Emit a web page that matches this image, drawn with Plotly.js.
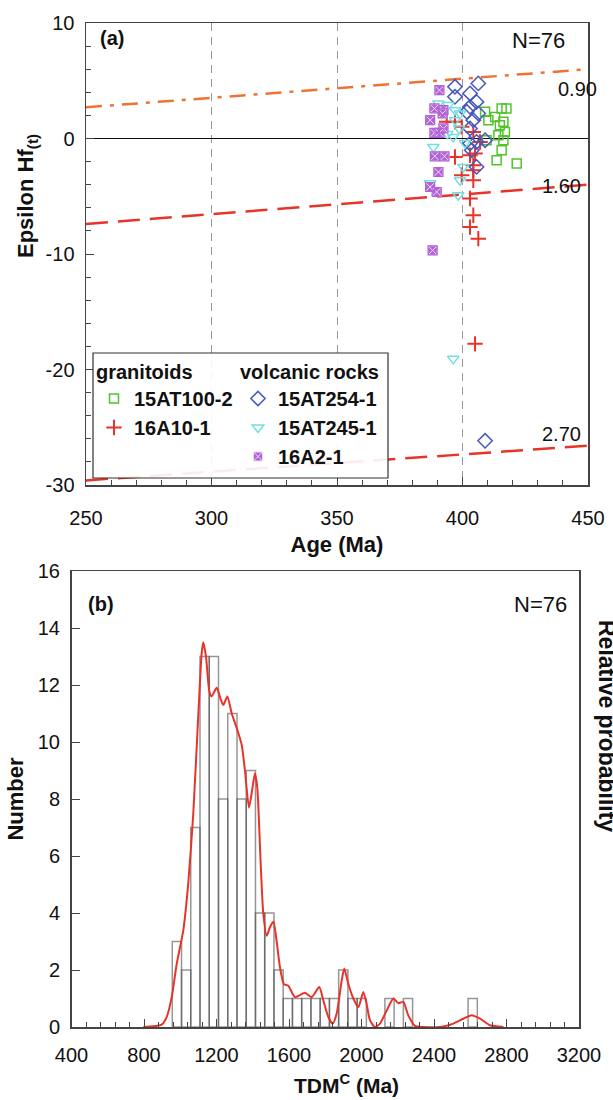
<!DOCTYPE html>
<html><head><meta charset="utf-8">
<script src="https://cdn.plot.ly/plotly-3.0.1.min.js"></script>
<style>html,body{margin:0;padding:0;background:#fff}#chart{width:613px;height:1100px}</style>
</head><body><div id="chart"></div>
<script>
// ---------- Panel (a) data: Age (Ma) vs Epsilon Hf(t) ----------
const ageGranite1 = [415.6, 409.0, 413.0, 416.3, 410.3, 414.9, 416.9, 414.3, 409.6, 416.3, 415.6, 413.6, 421.6, 417.5];
const epsGranite1 = [2.60, 2.31, 1.87, 1.44, 1.59, 1.15, 0.57, 0.29, -0.15, -0.15, -1.01, -1.88, -2.17, 2.60];

const ageGranite2 = [397.0, 399.7, 404.3, 393.7, 397.0, 403.0, 405.0, 404.3, 399.7, 404.3, 404.3, 403.0, 404.3, 403.0, 406.3, 405.0, 407.0];
const epsGranite2 = [1.44, 1.01, 0.57, 1.44, -1.60, -1.45, -1.30, -2.32, -3.18, -2.75, -3.62, -5.20, -6.65, -7.67, -8.67, -17.78, -0.30];

const ageVolc1 = [406.3, 397.0, 403.0, 397.0, 405.6, 403.0, 401.7, 406.3, 404.3, 403.0, 409.0, 405.6, 403.0, 403.7, 405.6, 409.0];
const epsVolc1 = [4.77, 4.48, 3.90, 3.61, 3.17, 2.74, 2.31, 2.17, 1.59, 0.87, -0.15, -0.29, -0.43, -1.01, -2.46, -26.17];

const ageVolc2 = [390.4, 394.3, 397.0, 399.0, 397.0, 398.7, 396.3, 388.4, 400.3, 399.0, 398.3, 387.1, 396.3, 394.0, 401.0];
const epsVolc2 = [3.04, 2.89, 2.45, 2.17, 1.59, 0.87, 0.14, -0.73, -2.46, -3.62, -4.92, -3.88, -19.08, 0.40, -0.40];

const ageVolc3 = [390.8, 388.8, 392.4, 392.1, 387.1, 392.4, 388.8, 390.8, 389.0, 392.8, 390.4, 387.1, 389.7, 388.1];
const epsVolc3 = [4.19, 2.60, 2.45, 2.17, 1.59, 0.87, 0.49, 0.49, -1.54, -1.54, -2.90, -4.20, -4.63, -9.69];

const sampleNames = ['15AT100-2', '16A10-1', '15AT254-1', '15AT245-1', '16A2-1'];

// model-age reference lines (Ga)
const refAge = [250, 450];
const ref090 = [2.7, 6.0];
const ref160 = [-7.4, -4.0];
const ref270 = [-29.6, -26.6];
const refLabels = ['0.90', '1.60', '2.70'];

// tick labels
const epsTickVals = [-30, -20, -10, 0, 10];
const epsTickText = ['-30', '-20', '-10', '0', '10'];

// ---------- Panel (b) data: TDMc histogram + probability curve ----------
const binCenters = [981.5, 1032.5, 1083.5, 1134.5, 1185.5, 1236.5, 1287.5, 1338.5, 1389.5, 1440.5, 1491.5, 1542.5,
  1593.5, 1644.5, 1695.5, 1746.5, 1797.5, 1848.5, 1899.5, 1950.5, 2001.5, 2154.5, 2256.5, 2613.5];
const binCounts = [3, 2, 7, 13, 13, 8, 11, 8, 9, 4, 4, 2, 1, 1, 1, 1, 1, 1, 2, 1, 1, 1, 1, 1];

const pdfX = [796, 897, 925, 953, 980, 1017, 1045, 1072, 1100, 1118, 1127, 1142, 1160, 1173, 1201, 1223, 1238, 1260,
  1284, 1311, 1339, 1357, 1379, 1394, 1412, 1425, 1444, 1458, 1477, 1495, 1514, 1532, 1550, 1572, 1596, 1633, 1688,
  1725, 1767, 1789, 1817, 1841, 1863, 1891, 1905, 1927, 1955, 1983, 2010, 2028, 2047, 2074, 2102, 2139, 2176, 2203,
  2231, 2258, 2295, 2341, 2433, 2507, 2562, 2608, 2654, 2709, 2783];
const pdfY = [0, 0.08, 0.35, 1.05, 2.2, 3.4, 5.1, 7.5, 11.0, 13.1, 13.5, 13.0, 11.8, 11.6, 11.9, 11.5, 11.3, 11.6,
  11.0, 10.5, 9.9, 9.0, 7.7, 8.2, 8.9, 8.4, 5.7, 4.0, 3.2, 3.5, 3.7, 3.0, 2.1, 1.5, 1.45, 1.05, 1.2,
  1.05, 1.4, 0.94, 0.35, 0.12, 0.47, 1.64, 2.05, 1.52, 1.0, 0.7, 1.23, 0.82, 0.23, 0, 0.12, 0.58, 1.0, 0.84,
  0.88, 0.41, 0.04, 0, 0, 0.12, 0.29, 0.41, 0.29, 0.06, 0];

// ---------- helpers ----------
const W = 613, H = 1100;
const PX = x => x / W;
const PY = y => 1 - y / H;
const FONT = 'Liberation Sans, Arial, Helvetica, sans-serif';
const C = {green: '#52c42a', red: '#e8332a', blue: '#4657bd', cyan: '#72e0e0', purple: '#b062d6', orange: '#f07232'};

const traces = [
  {x: refAge, y: ref090, xaxis: 'x', yaxis: 'y', mode: 'lines', showlegend: false,
   line: {color: C.orange, width: 2.5, dash: '16px,8px,4px,8px'}},
  {x: refAge, y: ref160, xaxis: 'x', yaxis: 'y', mode: 'lines', showlegend: false,
   line: {color: C.red, width: 2.5, dash: '22px,10px'}},
  {x: refAge, y: ref270, xaxis: 'x', yaxis: 'y', mode: 'lines', showlegend: false,
   line: {color: C.red, width: 2.5, dash: '22px,10px'}},
  {x: ageGranite1, y: epsGranite1, name: sampleNames[0], legend: 'legend', mode: 'markers', xaxis: 'x', yaxis: 'y',
   marker: {symbol: 'square-open', size: 9, color: C.green, line: {color: C.green, width: 1.5}}},
  {x: ageGranite2, y: epsGranite2, name: sampleNames[1], legend: 'legend', mode: 'markers', xaxis: 'x', yaxis: 'y',
   marker: {symbol: 'cross-thin-open', size: 11, color: C.red, line: {color: C.red, width: 2}}},
  {x: ageVolc1, y: epsVolc1, name: sampleNames[2], legend: 'legend2', mode: 'markers', xaxis: 'x', yaxis: 'y',
   marker: {symbol: 'diamond-open', size: 11, color: C.blue, line: {color: C.blue, width: 1.5}}},
  {x: ageVolc2, y: epsVolc2, name: sampleNames[3], legend: 'legend2', mode: 'markers', xaxis: 'x', yaxis: 'y',
   marker: {symbol: 'triangle-down-open', size: 10, color: C.cyan, line: {color: C.cyan, width: 1.5}}},
  {x: ageVolc3, y: epsVolc3, name: sampleNames[4], legend: 'legend2', mode: 'markers', xaxis: 'x', yaxis: 'y',
   marker: {symbol: 'square-x', size: 9, color: C.purple, line: {color: '#f0dcf8', width: 1}}},
  {x: ageVolc3, y: epsVolc3, showlegend: false, legend: 'legend2', mode: 'markers', xaxis: 'x', yaxis: 'y',
   marker: {symbol: 'square-open', size: 9, color: C.purple, line: {color: C.purple, width: 1.2}}},
  // panel b
  {type: 'bar', x: binCenters, y: binCounts, width: 51, xaxis: 'x2', yaxis: 'y2', showlegend: false,
   marker: {color: 'rgba(255,255,255,0)', line: {color: 'rgba(80,80,80,0.6)', width: 1.5}}},
  {x: pdfX, y: pdfY, xaxis: 'x2', yaxis: 'y2', mode: 'lines', showlegend: false,
   line: {color: C.red, width: 2, shape: 'spline', smoothing: 0.6}}
];

const axBase = {
  showline: true, linecolor: '#444', linewidth: 1.5, mirror: true, zeroline: false,
  ticks: 'inside', tickcolor: '#444', tickwidth: 1, ticklen: 8,
  tickfont: {family: FONT, size: 20, color: '#111'}, fixedrange: true
};

const layout = {
  width: W, height: H,
  margin: {l: 0, r: 0, t: 0, b: 0},
  paper_bgcolor: '#fff', plot_bgcolor: '#fff',
  font: {family: FONT, size: 20, color: '#111'},
  bargap: 0,
  xaxis: Object.assign({}, axBase, {
    domain: [PX(86), PX(588)], range: [250, 450], tick0: 250, dtick: 50, anchor: 'y',
    minor: {ticks: 'inside', dtick: 10, ticklen: 5, tickcolor: '#444'},
    showgrid: true, gridcolor: '#9a9a9a', gridwidth: 1, griddash: '8px,6px',
    ticklabelstandoff: 14,
    title: {text: '<b>Age (Ma)</b>', font: {size: 22}, standoff: 9}
  }),
  yaxis: Object.assign({}, axBase, {
    domain: [PY(485), PY(23)], range: [-30, 10], tickmode: 'array', tickvals: epsTickVals, ticktext: epsTickText,
    anchor: 'x',
    minor: {ticks: 'inside', tickmode: 'linear', tick0: 0, dtick: 2, ticklen: 5, tickcolor: '#444'},
    showgrid: false, zeroline: true, zerolinecolor: '#111', zerolinewidth: 1.5,
    ticklabelstandoff: 6
  }),
  xaxis2: Object.assign({}, axBase, {
    domain: [PX(71.5), PX(579)], range: [400, 3200], tick0: 400, dtick: 400, anchor: 'y2',
    minor: {ticks: 'inside', dtick: 80, ticklen: 5, tickcolor: '#444'},
    showgrid: false, ticklabelstandoff: 9
  }),
  yaxis2: Object.assign({}, axBase, {
    domain: [PY(1027), PY(571)], range: [0, 16], dtick: 2, anchor: 'x2',
    showgrid: false, ticklabelstandoff: 6,
    title: {text: '<b>Number</b>', font: {size: 22}, standoff: 8}
  }),
  legend: {
    x: PX(94), y: PY(353), xanchor: 'left', yanchor: 'top', bgcolor: 'rgba(0,0,0,0)', borderwidth: 0,
    font: {family: FONT, size: 20, color: '#111', weight: 'bold'},
    title: {text: 'granitoids', font: {family: FONT, size: 20, color: '#111', weight: 'bold'}}
  },
  legend2: {
    x: PX(238), y: PY(353), xanchor: 'left', yanchor: 'top', bgcolor: 'rgba(0,0,0,0)', borderwidth: 0,
    font: {family: FONT, size: 20, color: '#111', weight: 'bold'},
    title: {text: 'volcanic rocks', font: {family: FONT, size: 20, color: '#111', weight: 'bold'}}
  },
  shapes: [
    {type: 'rect', xref: 'paper', yref: 'paper', x0: PX(93), x1: PX(388), y0: PY(478), y1: PY(353),
     line: {color: '#333', width: 1.2}, fillcolor: 'rgba(255,255,255,0.9)', layer: 'above'}
  ],
  annotations: [
    {text: '<b>(a)</b>', x: PX(98), y: PY(38), xanchor: 'left'},
    {text: 'N=76', x: PX(538), y: PY(40), font: {size: 22}},
    {text: refLabels[0], x: PX(577), y: PY(89)},
    {text: refLabels[1], x: PX(561), y: PY(186)},
    {text: refLabels[2], x: PX(561), y: PY(434)},
    {text: '<b>Epsilon Hf<sub>(t)</sub></b>', x: PX(27), y: PY(196), textangle: -90, font: {size: 22}},
    {text: '<b>(b)</b>', x: PX(86), y: PY(604), xanchor: 'left'},
    {text: 'N=76', x: PX(540), y: PY(604), font: {size: 22}},
    {text: '<b>TDM<sup>C</sup> (Ma)</b>', x: PX(346), y: PY(1084), font: {size: 21}},
    {text: '<b>Relative probability</b>', x: PX(607), y: PY(726), textangle: 90, font: {size: 23}}
  ].map(a => Object.assign({xref: 'paper', yref: 'paper', showarrow: false, xanchor: 'center', yanchor: 'middle'},
    a, {font: Object.assign({family: FONT, size: 20, color: '#111'}, a.font || {})}))
};

Plotly.newPlot('chart', traces, layout, {staticPlot: true, displayModeBar: false});
</script></body></html>
